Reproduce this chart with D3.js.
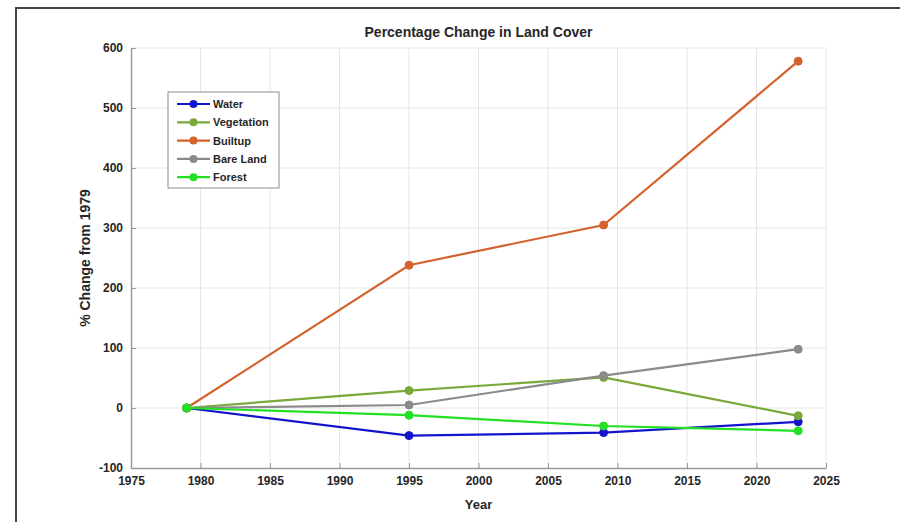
<!DOCTYPE html>
<html>
<head>
<meta charset="utf-8">
<script src="https://cdn.jsdelivr.net/npm/d3@7/dist/d3.min.js"></script>
<style>
  html, body { margin: 0; padding: 0; background: #ffffff; }
  svg { display: block; }
  text { font-family: "Liberation Sans", Arial, sans-serif; font-weight: bold; fill: #262626; }
</style>
</head>
<body>
<script>
// Survey years and land cover change relative to 1979 (%)
const years = [1979, 1995, 2009, 2023];
const seriesNames = ["Water", "Vegetation", "Builtup", "Bare Land", "Forest"];
const water      = [0, -46, -41, -23];
const vegetation = [0, 29, 51, -13];
const builtup    = [0, 238, 305, 578];
const bareLand   = [0, 5, 54, 98];
const forest     = [0, -12, -30, -38];
const seriesColors = ["#1414cc", "#7aa83a", "#d4622c", "#8a8a8a", "#22e022"];
const xTicks = [1975, 1980, 1985, 1990, 1995, 2000, 2005, 2010, 2015, 2020, 2025];
const yTicks = [-100, 0, 100, 200, 300, 400, 500, 600];

const W = 900, H = 522;
const svg = d3.select("body").append("svg").attr("width", W).attr("height", H);

// figure frame
svg.append("path")
  .attr("d", `M16,${H} L16,8 L${W},8`)
  .attr("fill", "none").attr("stroke", "#444").attr("stroke-width", 2);

const plotL = 131, plotR = 826, plotT = 48, plotB = 468;
const x = d3.scaleLinear().domain([1975, 2025]).range([plotL, plotR]);
const y = d3.scaleLinear().domain([-100, 600]).range([plotB, plotT]);

// grid
const grid = svg.append("g");
grid.selectAll(".gx").data(xTicks.slice(1)).join("line")
  .attr("x1", d => x(d)).attr("x2", d => x(d)).attr("y1", plotT).attr("y2", plotB)
  .attr("stroke", "#e6e6e6").attr("stroke-width", 1);
grid.selectAll(".gy").data(yTicks.slice(1)).join("line")
  .attr("x1", plotL).attr("x2", plotR).attr("y1", d => y(d)).attr("y2", d => y(d))
  .attr("stroke", "#e6e6e6").attr("stroke-width", 1);

// axes with inward ticks, plain hyphen for negatives
const plain = d => String(d);
const xAxis = svg.append("g").attr("transform", `translate(0,${plotB})`)
  .call(d3.axisBottom(x).tickValues(xTicks).tickFormat(plain).tickSizeInner(-5).tickSizeOuter(0).tickPadding(8));
const yAxis = svg.append("g").attr("transform", `translate(${plotL},0)`)
  .call(d3.axisLeft(y).tickValues(yTicks).tickFormat(plain).tickSizeInner(-5).tickSizeOuter(0).tickPadding(8));
[xAxis, yAxis].forEach(a => {
  a.select(".domain").attr("stroke", "#9a9a9a").attr("stroke-width", 1.5);
  a.selectAll(".tick line").attr("stroke", "#9a9a9a");
  a.selectAll(".tick text").attr("font-size", 12).attr("fill", "#333")
    .attr("font-family", "'Liberation Sans', Arial, sans-serif").attr("font-weight", "bold");
});

// lines and markers
const allSeries = [water, vegetation, builtup, bareLand, forest];
const line = d3.line().x((d, i) => x(years[i])).y(d => y(d));
allSeries.forEach((vals, k) => {
  const g = svg.append("g");
  g.append("path").datum(vals).attr("d", line)
    .attr("fill", "none").attr("stroke", seriesColors[k]).attr("stroke-width", 2.2);
  g.selectAll("circle").data(vals).join("circle")
    .attr("cx", (d, i) => x(years[i])).attr("cy", d => y(d)).attr("r", 4)
    .attr("fill", seriesColors[k]).attr("stroke", seriesColors[k]);
});

// title and axis labels
svg.append("text").attr("x", (plotL + plotR) / 2).attr("y", 37).attr("text-anchor", "middle")
  .attr("font-size", 14).text("Percentage Change in Land Cover");
svg.append("text").attr("x", (plotL + plotR) / 2).attr("y", 509).attr("text-anchor", "middle")
  .attr("font-size", 13).text("Year");
svg.append("text").attr("transform", `translate(90,${(plotT + plotB) / 2}) rotate(-90)`)
  .attr("text-anchor", "middle").attr("font-size", 14).text("% Change from 1979");

// legend
const lg = svg.append("g");
lg.append("rect").attr("x", 168).attr("y", 92).attr("width", 111).attr("height", 96)
  .attr("fill", "#fff").attr("stroke", "#8c8c8c").attr("stroke-width", 1);
seriesNames.forEach((name, k) => {
  const ly = 104 + k * 18.3;
  lg.append("line").attr("x1", 177).attr("x2", 210).attr("y1", ly).attr("y2", ly)
    .attr("stroke", seriesColors[k]).attr("stroke-width", 2.2);
  lg.append("circle").attr("cx", 193.5).attr("cy", ly).attr("r", 4).attr("fill", seriesColors[k]);
  lg.append("text").attr("x", 213).attr("y", ly + 4).attr("font-size", 11).text(name);
});
</script>
</body>
</html>
